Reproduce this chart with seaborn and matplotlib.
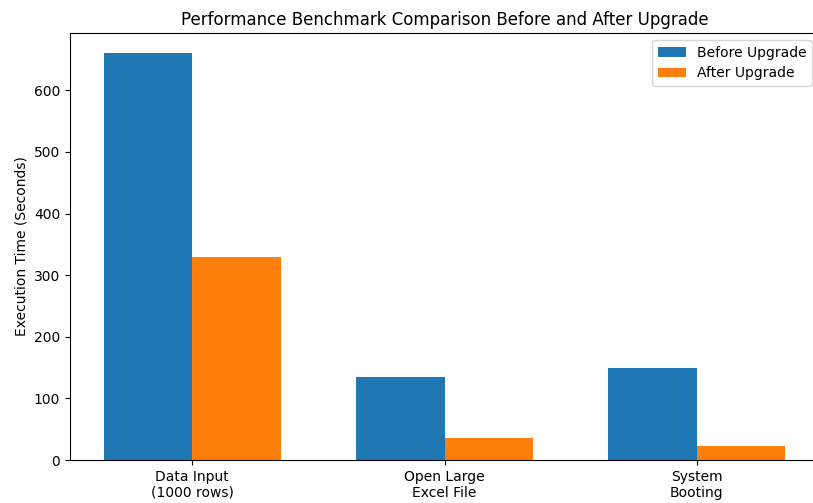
import pandas as pd
import matplotlib
matplotlib.use('Agg')
import matplotlib.pyplot as plt
import seaborn as sns

# Dados do benchmark
tasks = ['Data Input\n(1000 rows)', 'Open Large\nExcel File', 'System\nBooting']
before = [660, 135, 150]
after = [330, 35, 22]
series = ['Before Upgrade', 'After Upgrade']

df = pd.DataFrame({
    'Task': tasks * 2,
    'Time': before + after,
    'Stage': [series[0]] * len(tasks) + [series[1]] * len(tasks),
})

fig = plt.figure(figsize=(8.13, 5.03), dpi=100)
# a figura original foi cortada à direita
ax = fig.add_axes([70 / 813, 43 / 503, 749 / 813, 427 / 503])

sns.barplot(data=df, x='Task', y='Time', hue='Stage', order=tasks, hue_order=series,
            palette=['#1f77b4', '#ff7f0e'], saturation=1, width=0.7, ax=ax)

ax.set_xlim(-0.485, 2.485)
ax.set_title('Performance Benchmark Comparison Before and After Upgrade')
ax.set_xlabel('')
ax.set_ylabel('Execution Time (Seconds)')
ax.legend(loc='upper right')

fig.savefig('out.png', dpi=100)
plt.close()
